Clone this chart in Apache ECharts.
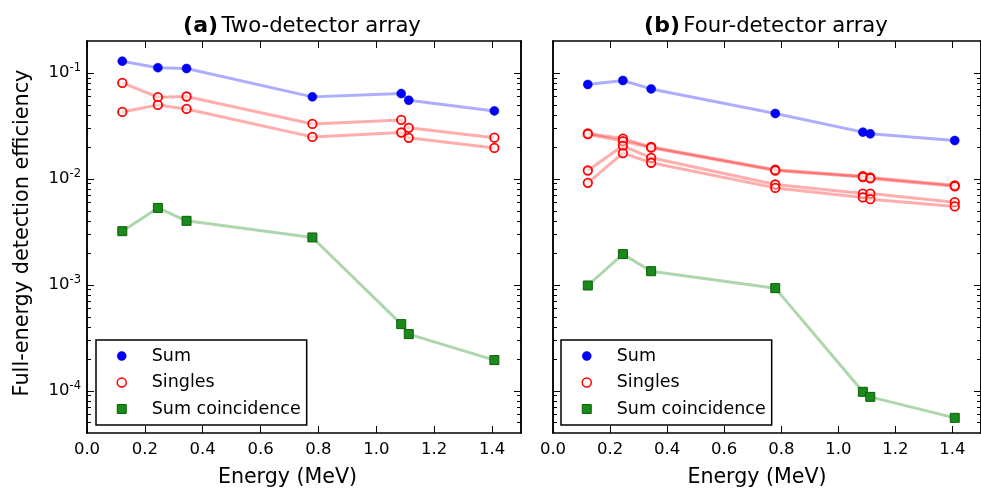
<!DOCTYPE html>
<html><head><meta charset="utf-8">
<script src="https://cdn.jsdelivr.net/npm/echarts@6/dist/echarts.min.js"></script>
<style>html,body{margin:0;padding:0;background:#fff}#c{width:981px;height:490px}</style>
</head><body><div id="c"></div>
<script>
// ---- data ----
const energies = [0.122, 0.245, 0.344, 0.779, 1.086, 1.112, 1.408];
// (a) two-detector array
const sumA      = [0.129, 0.112, 0.110, 0.0594, 0.0638, 0.0552, 0.0438];
const singlesA1 = [0.0805, 0.059, 0.0599, 0.033, 0.036, 0.0303, 0.0245];
const singlesA2 = [0.0428, 0.0499, 0.0457, 0.0249, 0.0274, 0.0244, 0.0196];
const coincA    = [0.00321, 0.00532, 0.00402, 0.0028, 0.000426, 0.000343, 0.000195];
// (b) four-detector array
const sumB      = [0.0777, 0.0848, 0.0706, 0.0414, 0.0276, 0.0266, 0.0230];
const singlesB1 = [0.0268, 0.0240, 0.0200, 0.0122, 0.0106, 0.0103, 0.0087];
const singlesB2 = [0.0264, 0.0227, 0.0197, 0.0120, 0.0104, 0.0101, 0.0085];
const singlesB3 = [0.0120, 0.0205, 0.0158, 0.00885, 0.00727, 0.00727, 0.00603];
const singlesB4 = [0.00917, 0.0175, 0.0142, 0.00822, 0.00668, 0.00643, 0.0055];
const coincB    = [0.000986, 0.00195, 0.001346, 0.000931, 0.0000979, 0.0000877, 0.0000556];
const legendNames = ['Sum', 'Singles', 'Sum coincidence'];
const panelTitles = [['(a)', 'Two-detector array'], ['(b)', 'Four-detector array']];
const xName = 'Energy (MeV)';
const yName = 'Full-energy detection efficiency';
const yMajorTicks = [1e-4, 1e-3, 1e-2, 1e-1];
const yMin = 4e-5, yMax = 0.2, xMin = 0, xMax = 1.5, xStep = 0.2;

// ---- styles ----
const FONT = 'DejaVu Sans';
const styles = {
  sum: {symbol: 'circle', symbolSize: 9,
        itemStyle: {color: '#0000ff', borderColor: '#0000b0', borderWidth: 0.5, opacity: 1},
        lineStyle: {color: 'rgba(0,0,255,0.32)', width: 3}},
  singles: {symbol: 'circle', symbolSize: 8.5,
        itemStyle: {color: 'rgba(255,255,255,0.45)', borderColor: '#ff0000', borderWidth: 1.8, opacity: 1},
        lineStyle: {color: 'rgba(255,0,0,0.32)', width: 3}},
  coinc: {symbol: 'rect', symbolSize: 9,
        itemStyle: {color: '#1a8a1a', borderColor: '#0b5f0b', borderWidth: 1, opacity: 1},
        lineStyle: {color: 'rgba(0,128,0,0.32)', width: 3}}
};
function mk(name, arr, kind, panel) {
  const s = styles[kind];
  return {
    type: 'line', name: name, xAxisIndex: panel * 2, yAxisIndex: panel * 2,
    data: energies.map((e, i) => [e, arr[i]]),
    symbol: s.symbol, symbolSize: s.symbolSize, showSymbol: true, showAllSymbol: true,
    itemStyle: s.itemStyle, lineStyle: s.lineStyle, silent: true, emphasis: {disabled: true}
  };
}

// minor log ticks at 2..9 x 10^n inside the range
const minorTicks = [];
for (let d = -5; d <= 0; d++) for (let k = 2; k <= 9; k++) {
  const v = k * Math.pow(10, d);
  if (v > yMin && v < yMax) minorTicks.push(v);
}

const panelRects = [
  {left: 87, top: 41, width: 434, height: 392},
  {left: 553, top: 41, width: 435, height: 392}
];
// grids 0,1: main panels; grids 2,3: overlays carrying the minor ticks
const grids = [panelRects[0], panelRects[1], panelRects[0], panelRects[1]];
const axisLine = {show: true, onZero: false, lineStyle: {color: '#000', width: 1.5}};
const tick = {show: true, inside: true, length: 7, lineStyle: {color: '#000', width: 1}};
const xAxes = [], yAxes = [];
[0, 1].forEach(p => {
  xAxes.push({type: 'value', gridIndex: p, position: 'bottom', min: xMin, max: xMax, interval: xStep,
    axisLine: axisLine, splitLine: {show: false}, axisTick: tick,
    axisLabel: {show: true, margin: 8, showMaxLabel: false, color: '#000', fontSize: 16.5, fontFamily: FONT,
      formatter: v => v.toFixed(1)}});
  xAxes.push({type: 'value', gridIndex: p, position: 'top', min: xMin, max: xMax, interval: xStep,
    axisLine: axisLine, splitLine: {show: false}, axisTick: tick, axisLabel: {show: false}});
  const labelFmt = v => '{m|10}{s|' + Math.round(Math.log10(v)) + '}';
  ['left', 'right'].forEach(pos => {
    yAxes.push({type: 'log', logBase: 10, gridIndex: p, position: pos, min: yMin, max: yMax,
      axisLine: axisLine, splitLine: {show: false}, minorTick: {show: false},
      axisTick: Object.assign({}, tick, {customValues: yMajorTicks}),
      axisLabel: {show: p === 0 && pos === 'left', customValues: yMajorTicks, margin: 6, color: '#000',
        fontFamily: FONT, formatter: labelFmt,
        rich: {m: {fontSize: 16.5, lineHeight: 22, fontFamily: FONT, color: '#000'},
               s: {fontSize: 11.5, lineHeight: 11, verticalAlign: 'top', fontFamily: FONT, color: '#000'}}}});
  });
});
[0, 1].forEach(p => {
  xAxes.push({type: 'value', gridIndex: 2 + p, show: false, min: xMin, max: xMax, interval: xStep,
    axisLine: {show: false, onZero: false}, splitLine: {show: false}});
  ['left', 'right'].forEach(pos => {
    yAxes.push({type: 'log', logBase: 10, gridIndex: 2 + p, position: pos, min: yMin, max: yMax,
      axisLine: axisLine, splitLine: {show: false}, minorTick: {show: false}, axisLabel: {show: false},
      axisTick: {show: true, inside: true, length: 4, customValues: minorTicks, lineStyle: {color: '#000', width: 1}}});
  });
});

const series = [
  mk('Sum', sumA, 'sum', 0),
  mk('Singles', singlesA1, 'singles', 0),
  mk('Singles', singlesA2, 'singles', 0),
  mk('Sum coincidence', coincA, 'coinc', 0),
  mk('Sum', sumB, 'sum', 1),
  mk('Singles', singlesB1, 'singles', 1),
  mk('Singles', singlesB2, 'singles', 1),
  mk('Singles', singlesB3, 'singles', 1),
  mk('Singles', singlesB4, 'singles', 1),
  mk('Sum coincidence', coincB, 'coinc', 1)
];

function legendAt(left) {
  return {
    left: left, top: 340, orient: 'vertical', itemWidth: 9, itemHeight: 9, itemGap: 8.5,
    padding: [7, 6, 7, 20.5], backgroundColor: '#fff', borderColor: '#000', borderWidth: 1.5, borderRadius: 0,
    selectedMode: false, z: 10,
    textStyle: {color: '#000', fontSize: 17.5, fontFamily: FONT, padding: [0, 0, 0, 20.5]},
    data: [
      {name: legendNames[0], icon: 'circle', itemStyle: {color: '#0000ff', borderColor: '#0000b0', borderWidth: 0.5}},
      {name: legendNames[1], icon: 'circle', itemStyle: {color: '#ffffff', borderColor: '#ff0000', borderWidth: 1.5}},
      {name: legendNames[2], icon: 'rect', itemStyle: {color: '#1a8a1a', borderColor: '#0b5f0b', borderWidth: 1}}
    ]
  };
}

const titleRich = {b: {fontSize: 22, fontWeight: 'bold', fontFamily: FONT, fill: '#000'},
                   n: {fontSize: 21.2, fontFamily: FONT, fill: '#000'}};
const graphic = [
  {type: 'text', x: 302, y: 26, style: {text: '{b|' + panelTitles[0][0] + '} {n|' + panelTitles[0][1] + '}',
    align: 'center', verticalAlign: 'middle', rich: titleRich}},
  {type: 'text', x: 766, y: 26, style: {text: '{b|' + panelTitles[1][0] + '} {n|' + panelTitles[1][1] + '}',
    align: 'center', verticalAlign: 'middle', rich: titleRich}},
  {type: 'text', x: 287.5, y: 478, style: {text: xName, align: 'center', verticalAlign: 'middle',
    fontSize: 20.6, fontFamily: FONT, fill: '#000'}},
  {type: 'text', x: 757, y: 478, style: {text: xName, align: 'center', verticalAlign: 'middle',
    fontSize: 20.6, fontFamily: FONT, fill: '#000'}},
  {type: 'text', x: 23, y: 233, rotation: Math.PI / 2, style: {text: yName, align: 'center', verticalAlign: 'middle',
    fontSize: 20.8, fontFamily: FONT, fill: '#000'}}
];

const chart = echarts.init(document.getElementById('c'), null, {renderer: 'canvas'});
chart.setOption({
  animation: false,
  backgroundColor: '#fff',
  textStyle: {fontFamily: FONT},
  grid: grids,
  xAxis: xAxes,
  yAxis: yAxes,
  legend: [legendAt(96), legendAt(561)],
  graphic: graphic,
  series: series
});
</script></body></html>
